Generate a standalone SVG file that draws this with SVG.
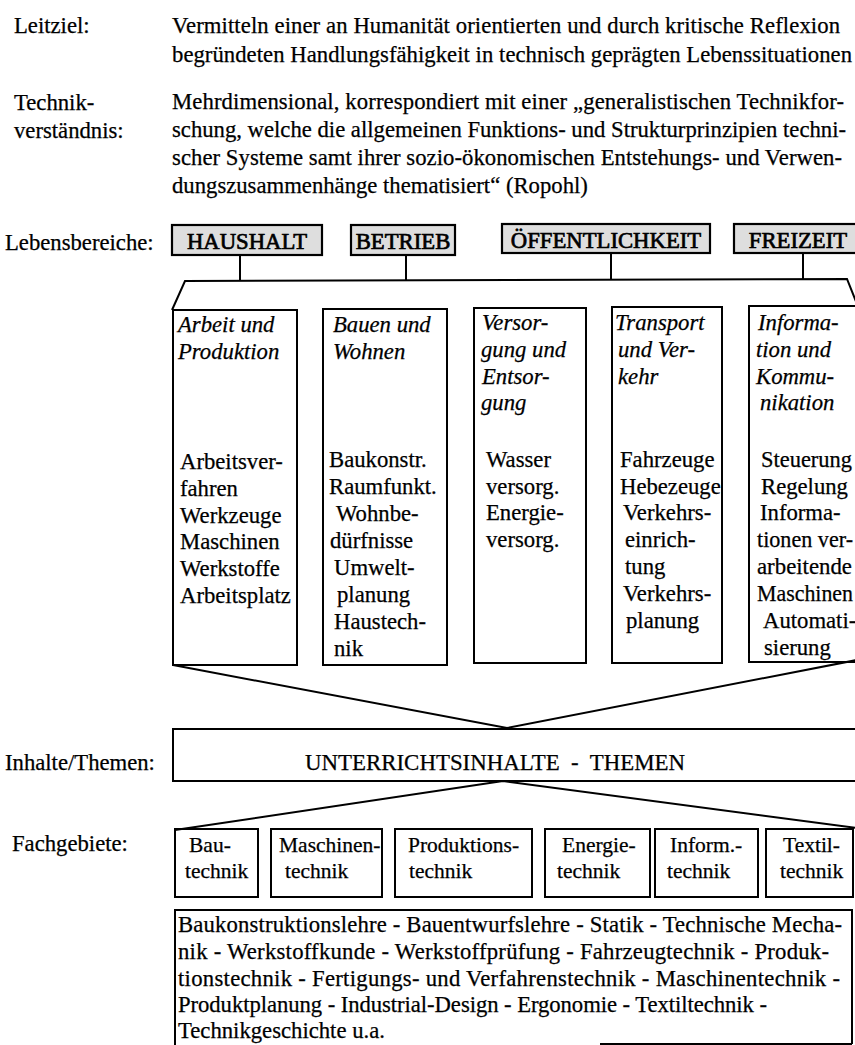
<svg xmlns="http://www.w3.org/2000/svg" width="855" height="1045" viewBox="0 0 855 1045">
<style>
.t{font-family:"Liberation Serif","Times New Roman",serif;font-size:22.7px;fill:#000;stroke:#000;stroke-width:0.25}
.i{font-style:italic}
.s{font-size:21.5px}
.h{stroke-width:0.7}
.b{fill:none;stroke:#000;stroke-width:2}
.g{fill:#dedede;stroke:#000;stroke-width:2.2}
.c{fill:none;stroke:#000;stroke-width:2;stroke-linejoin:miter}
</style>
<rect width="855" height="1045" fill="#fff"/>

<g id="leitziel">
<text class="t" x="14" y="33">Leitziel:</text>
<text class="t" x="172" y="33" textLength="668" lengthAdjust="spacing">Vermitteln einer an Humanität orientierten und durch kritische Reflexion</text>
<text class="t" x="172" y="62" textLength="680" lengthAdjust="spacing">begründeten Handlungsfähigkeit in technisch geprägten Lebenssituationen</text>
</g>

<g id="technikverstaendnis">
<text class="t" x="14" y="110">Technik-</text>
<text class="t" x="14" y="138">verständnis:</text>
<text class="t" x="172" y="109" textLength="672" lengthAdjust="spacing">Mehrdimensional, korrespondiert mit einer „generalistischen Technikfor-</text>
<text class="t" x="172" y="137" textLength="674" lengthAdjust="spacing">schung, welche die allgemeinen Funktions- und Strukturprinzipien techni-</text>
<text class="t" x="172" y="165" textLength="670" lengthAdjust="spacing">scher Systeme samt ihrer sozio-ökonomischen Entstehungs- und Verwen-</text>
<text class="t" x="172" y="193">dungszusammenhänge thematisiert“ (Ropohl)</text>
</g>

<g id="lebensbereiche-label"><text class="t" x="5" y="250">Lebensbereiche:</text></g>
<g id="haushalt"><rect class="g" x="172" y="225" width="150" height="30"/><text class="t h" x="247" y="249" text-anchor="middle">HAUSHALT</text></g>
<g id="betrieb"><rect class="g" x="351" y="225" width="104" height="30"/><text class="t h" x="403" y="249" text-anchor="middle">BETRIEB</text></g>
<g id="oeffentlichkeit"><rect class="g" x="502" y="224" width="208" height="29"/><text class="t h" x="606" y="248" text-anchor="middle">ÖFFENTLICHKEIT</text></g>
<g id="freizeit"><rect class="g" x="734" y="224" width="124" height="29"/><text class="t h" x="798" y="248" text-anchor="middle">FREIZEIT</text></g>

<g id="connectors">
<line class="c" x1="240" y1="255" x2="240" y2="281"/>
<line class="c" x1="406" y1="255" x2="406" y2="281"/>
<line class="c" x1="611" y1="253" x2="611" y2="280"/>
<line class="c" x1="803" y1="253" x2="803" y2="279"/>
<polyline class="c" points="172,310 185,281 847,279 857,304"/>
<polyline class="c" points="173,665 507,728 857,660"/>
<polyline class="c" points="175,830 503,781 857,828"/>
</g>

<g id="arbeit-produktion">
<rect class="b" x="173" y="310" width="124" height="355"/>
<text class="t i" x="178" y="332">Arbeit und</text>
<text class="t i" x="178" y="359">Produktion</text>
<text class="t" x="180" y="469">Arbeitsver-</text>
<text class="t" x="180" y="496">fahren</text>
<text class="t" x="180" y="523">Werkzeuge</text>
<text class="t" x="180" y="549">Maschinen</text>
<text class="t" x="180" y="576">Werkstoffe</text>
<text class="t" x="180" y="603">Arbeitsplatz</text>
</g>

<g id="bauen-wohnen">
<rect class="b" x="323" y="309" width="124" height="356"/>
<text class="t i" x="333" y="332">Bauen und</text>
<text class="t i" x="333" y="359">Wohnen</text>
<text class="t" x="329" y="467">Baukonstr.</text>
<text class="t" x="329" y="494">Raumfunkt.</text>
<text class="t" x="336" y="521">Wohnbe-</text>
<text class="t" x="330" y="548">dürfnisse</text>
<text class="t" x="334" y="575">Umwelt-</text>
<text class="t" x="337" y="602">planung</text>
<text class="t" x="334" y="629">Haustech-</text>
<text class="t" x="334" y="656">nik</text>
</g>

<g id="versorgung-entsorgung">
<rect class="b" x="474" y="308" width="112" height="355"/>
<text class="t i" x="482" y="330">Versor-</text>
<text class="t i" x="481" y="357">gung und</text>
<text class="t i" x="482" y="384">Entsor-</text>
<text class="t i" x="481" y="410">gung</text>
<text class="t" x="486" y="467">Wasser</text>
<text class="t" x="486" y="494">versorg.</text>
<text class="t" x="486" y="520">Energie-</text>
<text class="t" x="486" y="547">versorg.</text>
</g>

<g id="transport-verkehr">
<rect class="b" x="612" y="307" width="110" height="356"/>
<text class="t i" x="615" y="330">Transport</text>
<text class="t i" x="618" y="357">und Ver-</text>
<text class="t i" x="618" y="384">kehr</text>
<text class="t" x="620" y="467">Fahrzeuge</text>
<text class="t" x="620" y="494">Hebezeuge</text>
<text class="t" x="623" y="520">Verkehrs-</text>
<text class="t" x="625" y="547">einrich-</text>
<text class="t" x="625" y="574">tung</text>
<text class="t" x="623" y="601">Verkehrs-</text>
<text class="t" x="626" y="628">planung</text>
</g>

<g id="information-kommunikation">
<rect class="b" x="749" y="306" width="112" height="356"/>
<text class="t i" x="758" y="330">Informa-</text>
<text class="t i" x="756" y="357">tion und</text>
<text class="t i" x="756" y="384">Kommu-</text>
<text class="t i" x="760" y="410">nikation</text>
<text class="t" x="761" y="467" textLength="91" lengthAdjust="spacingAndGlyphs">Steuerung</text>
<text class="t" x="761" y="494">Regelung</text>
<text class="t" x="760" y="520">Informa-</text>
<text class="t" x="757" y="547" textLength="96" lengthAdjust="spacingAndGlyphs">tionen ver-</text>
<text class="t" x="757" y="574" textLength="95" lengthAdjust="spacingAndGlyphs">arbeitende</text>
<text class="t" x="757" y="601" textLength="96" lengthAdjust="spacingAndGlyphs">Maschinen</text>
<text class="t" x="763" y="628">Automati-</text>
<text class="t" x="764" y="655">sierung</text>
</g>

<g id="inhalte-label"><text class="t" x="5" y="770">Inhalte/Themen:</text></g>
<g id="unterrichtsinhalte">
<rect class="b" x="173" y="729" width="690" height="52"/>
<text class="t" x="305" y="770" textLength="380" lengthAdjust="spacingAndGlyphs" xml:space="preserve">UNTERRICHTSINHALTE  -  THEMEN</text>
</g>

<g id="fachgebiete-label"><text class="t" x="12" y="851">Fachgebiete:</text></g>
<g id="bautechnik"><rect class="b" x="175" y="829" width="83" height="68"/><text class="t s" x="189" y="852">Bau-</text><text class="t s" x="185" y="878">technik</text></g>
<g id="maschinentechnik"><rect class="b" x="271" y="829" width="111" height="68"/><text class="t s" x="279" y="852">Maschinen-</text><text class="t s" x="285" y="878">technik</text></g>
<g id="produktionstechnik"><rect class="b" x="395" y="829" width="137" height="68"/><text class="t s" x="408" y="852">Produktions-</text><text class="t s" x="409" y="878">technik</text></g>
<g id="energietechnik"><rect class="b" x="545" y="829" width="105" height="68"/><text class="t s" x="562" y="852">Energie-</text><text class="t s" x="557" y="878">technik</text></g>
<g id="informtechnik"><rect class="b" x="655" y="829" width="103" height="68"/><text class="t s" x="670" y="852">Inform.-</text><text class="t s" x="667" y="878">technik</text></g>
<g id="textiltechnik"><rect class="b" x="766" y="829" width="87" height="68"/><text class="t s" x="783" y="852">Textil-</text><text class="t s" x="780" y="878">technik</text></g>

<g id="faecherliste">
<path class="b" d="M175,1046 V910 H852 V1044 M600,1044 H852"/>
<text class="t" x="178" y="932" textLength="664" lengthAdjust="spacing">Baukonstruktionslehre - Bauentwurfslehre - Statik - Technische Mecha-</text>
<text class="t" x="178" y="959" textLength="651" lengthAdjust="spacing">nik - Werkstoffkunde - Werkstoffprüfung - Fahrzeugtechnik - Produk-</text>
<text class="t" x="178" y="986" textLength="662" lengthAdjust="spacing">tionstechnik - Fertigungs- und Verfahrenstechnik - Maschinentechnik -</text>
<text class="t" x="178" y="1012" textLength="589" lengthAdjust="spacing">Produktplanung - Industrial-Design - Ergonomie - Textiltechnik -</text>
<text class="t" x="178" y="1038">Technikgeschichte u.a.</text>
</g>
</svg>
